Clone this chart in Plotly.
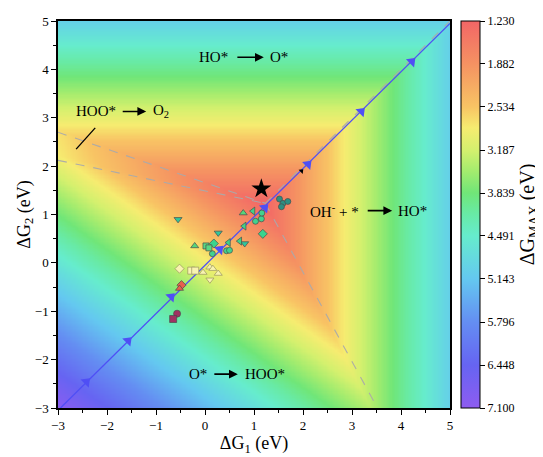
import numpy as np
import plotly.graph_objects as go

# ---------------- data ----------------
# heat-map model: four OER step energies, dG_MAX = max(dG1, dG2, dG3, dG4)
ideal_step = 1.23          # eV, ideal step at the optimum
total_energy = 4.92        # eV, sum of the four steps
dG4_coef_dG1 = -0.43       # slope of dG4 (HOO* -> O2) vs dG1
dG4_coef_dG2 = -0.20       # slope of dG4 vs dG2
axis_min, axis_max = -3.0, 5.0
grid_points = 321

cbar_ticks = [1.230, 1.882, 2.534, 3.187, 3.839, 4.491, 5.143, 5.796, 6.448, 7.100]
z_min, z_max = 1.23, 7.10

# colour stops (z value, rgb)
color_z = [7.100, 6.448, 5.796, 5.143, 4.491, 4.15, 3.839, 3.50, 3.187, 2.85, 2.534, 1.882, 1.23]
color_rgb = ["rgb(142,92,240)", "rgb(102,100,242)", "rgb(100,142,242)", "rgb(100,200,240)",
             "rgb(102,236,205)", "rgb(104,234,165)", "rgb(112,230,120)", "rgb(165,236,110)",
             "rgb(212,240,110)", "rgb(246,236,112)", "rgb(248,196,100)", "rgb(245,146,98)",
             "rgb(242,102,102)"]

# region boundaries (dashed lines)
bound_upper_x = [-3.0, 1.23]; bound_upper_y = [2.70, 1.23]
bound_lower_x = [-3.0, 1.23]; bound_lower_y = [2.12, 1.23]
bound_right_x = [1.23, 3.52]; bound_right_y = [1.23, -3.0]
bound_diag_x = [1.23, 5.0]; bound_diag_y = [1.23, 5.0]

# blue scaling line and its arrows
line_x = [-2.95, 5.0]; line_y = [-3.0, 4.95]
arrow_x = [-2.42, -1.57, -0.69, 0.30, 1.22, 2.10, 3.19, 4.22]
arrow_y = [-2.46, -1.61, -0.70, 0.28, 1.14, 2.04, 3.13, 4.16]
small_arrow_x = [1.97]; small_arrow_y = [1.90]

# catalysts
tri_down_x = [-0.55, 0.27, 0.81]; tri_down_y = [0.90, 0.62, 0.40]
tri_up_x = [0.78, -0.21]; tri_up_y = [1.03, 0.35]
tri_left_x = [0.98, 0.48, 0.71, 0.80]; tri_left_y = [1.07, 0.42, 0.45, 0.76]
circ_x = [1.03, 1.15, 1.16, 0.15, 0.44, 0.50]; circ_y = [0.86, 0.91, 1.03, 0.19, 0.25, 0.26]
diam_x = [1.18, 0.18]; diam_y = [0.60, 0.40]
sq_x = [0.02, 0.08]; sq_y = [0.35, 0.31]
teal_x = [1.52, 1.59, 1.69, 1.56]; teal_y = [1.32, 1.23, 1.27, 1.16]
yel_x = [-0.52, -0.28, -0.20, -0.04, 0.10, 0.16, 0.27, 0.10]
yel_y = [-0.12, -0.16, -0.16, -0.20, -0.09, -0.12, -0.22, -0.35]
yel_sym = ["diamond", "square", "square", "triangle-up", "triangle-up", "triangle-up", "triangle-up", "triangle-down"]
red_x = [-0.48, -0.52]; red_y = [-0.46, -0.53]; red_sym = ["diamond", "triangle-up"]
maroon_x = [-0.57, -0.65]; maroon_y = [-1.05, -1.16]; maroon_sym = ["circle", "square"]
star_x = [1.15]; star_y = [1.53]

# ---------------- heat map ----------------
g1 = np.linspace(axis_min, axis_max, grid_points)
g2 = np.linspace(axis_min, axis_max, grid_points)
G1, G2 = np.meshgrid(g1, g2)
dG4 = ideal_step + dG4_coef_dG1 * (G1 - ideal_step) + dG4_coef_dG2 * (G2 - ideal_step)
dG3 = total_energy - G1 - G2 - dG4
dGmax = np.maximum.reduce([G1, G2, dG3, dG4])
dGmax = np.clip(dGmax, z_min, z_max)

span = z_max - z_min
colorscale = sorted([[(z_max - z) / span, c] for z, c in zip(color_z, color_rgb)])

FONT = "Liberation Serif, Times New Roman, serif"
fig = go.Figure()
fig.add_trace(go.Heatmap(
    x=g1, y=g2, z=np.round(-dGmax, 3), zmin=-z_max, zmax=-z_min,
    colorscale=colorscale, hoverinfo="skip",
    colorbar=dict(
        tickvals=[-t for t in cbar_ticks], ticktext=[f"{t:.3f}" for t in cbar_ticks],
        ticks="outside", ticklen=5, tickcolor="black", tickwidth=1,
        outlinecolor="black", outlinewidth=1, thickness=19, len=1, lenmode="fraction",
        x=1.028, xanchor="left", xpad=0, y=0.5, yanchor="middle", ypad=0,
        tickfont=dict(family=FONT, size=12, color="black"),
        title=dict(text="ΔG<sub>MAX</sub> (eV)", side="right",
                   font=dict(family=FONT, size=20, color="black")),
    ),
))

dash_style = dict(color="rgba(170,170,170,0.95)", width=1.1, dash="dash")
for bx, by in [(bound_upper_x, bound_upper_y), (bound_lower_x, bound_lower_y),
               (bound_right_x, bound_right_y), (bound_diag_x, bound_diag_y)]:
    fig.add_trace(go.Scatter(x=bx, y=by, mode="lines", line=dash_style, hoverinfo="skip", showlegend=False))

fig.add_trace(go.Scatter(x=line_x, y=line_y, mode="lines", line=dict(color="#4f4ff5", width=1.3),
                         showlegend=False, hoverinfo="skip"))
fig.add_trace(go.Scatter(x=arrow_x, y=arrow_y, mode="markers",
                         marker=dict(symbol="triangle-up", angle=45, size=10, color="#4f4ff5"),
                         showlegend=False, hoverinfo="skip"))
fig.add_trace(go.Scatter(x=small_arrow_x, y=small_arrow_y, mode="markers",
                         marker=dict(symbol="triangle-up", angle=45, size=5, color="black"),
                         showlegend=False, hoverinfo="skip"))

edge = dict(color="#4a4a4a", width=0.7)
def pts(x, y, sym, color, size=6):
    fig.add_trace(go.Scatter(x=x, y=y, mode="markers",
                             marker=dict(symbol=sym, size=size, color=color, line=edge),
                             showlegend=False, hoverinfo="skip"))

pts(tri_down_x, tri_down_y, "triangle-down", "#2fc79c", 7)
pts(tri_up_x, tri_up_y, "triangle-up", "#55d67c", 7)
pts(tri_left_x, tri_left_y, "triangle-left", "#3fd08a", 7)
pts(circ_x, circ_y, "circle", "#42d28e", 6)
pts(diam_x, diam_y, "diamond", "#3ad48e", 7)
pts(sq_x, sq_y, "square", "#5ad884", 6)
pts(teal_x, teal_y, "circle", "#2b8f82", 6)
yel_edge = dict(color="#9a9460", width=0.7)
fig.add_trace(go.Scatter(x=yel_x, y=yel_y, mode="markers",
                         marker=dict(symbol=yel_sym, size=7, color="#f8f3b0", line=yel_edge),
                         showlegend=False, hoverinfo="skip"))
pts(red_x, red_y, red_sym, "#e8604c", 7)
pts(maroon_x, maroon_y, maroon_sym, "#a03262", 7)
fig.add_trace(go.Scatter(x=star_x, y=star_y, mode="markers",
                         marker=dict(symbol="star", size=15, color="black"),
                         showlegend=False, hoverinfo="skip"))

# ---------------- labels ----------------
tf = dict(family=FONT, size=15, color="black")
labels = [
    ("HO*", 0.18, 4.25), ("O*", 1.51, 4.25),
    ("HOO*", -2.23, 3.13), ("O<sub>2</sub>", -0.90, 3.13),
    ("OH<sup>-</sup> + *", 2.65, 1.08), ("HO*", 4.24, 1.08),
    ("O*", -0.14, -2.30), ("HOO*", 1.22, -2.30),
]
for t, x, y in labels:
    fig.add_annotation(text=t, x=x, y=y, xref="x", yref="y", showarrow=False, font=tf)
arrows = [(0.63, 1.20, 4.25), (-1.71, -1.20, 3.13), (3.29, 3.82, 1.08), (0.16, 0.67, -2.30)]
for x0, x1, y in arrows:
    fig.add_annotation(x=x1, y=y, ax=x0, ay=y, xref="x", yref="y", axref="x", ayref="y",
                       text="", showarrow=True, arrowhead=2, arrowsize=1.1, arrowwidth=1.6,
                       arrowcolor="black")
fig.add_shape(type="line", x0=-2.63, y0=2.35, x1=-2.24, y1=2.79, xref="x", yref="y",
              line=dict(color="black", width=1.3))

axis_common = dict(range=[axis_min, axis_max], dtick=1, showline=True, linecolor="black",
                   linewidth=1.5, mirror=True, ticks="outside", ticklen=5, tickwidth=1,
                   tickcolor="black", showgrid=False, zeroline=False,
                   minor=dict(ticks="outside", ticklen=3, dtick=0.5, tickcolor="black"),
                   tickfont=dict(family=FONT, size=13, color="black"))
fig.update_xaxes(**axis_common, title=dict(text="ΔG<sub>1</sub> (eV)", standoff=0,
                 font=dict(family=FONT, size=18, color="black")))
fig.update_yaxes(**axis_common, title=dict(text="ΔG<sub>2</sub> (eV)", standoff=0,
                 font=dict(family=FONT, size=18, color="black")))

fig.update_layout(width=543, height=457, margin=dict(l=50, r=101, t=6, b=57),
                  paper_bgcolor="white", plot_bgcolor="white", showlegend=False)
fig.write_html("out.html")
